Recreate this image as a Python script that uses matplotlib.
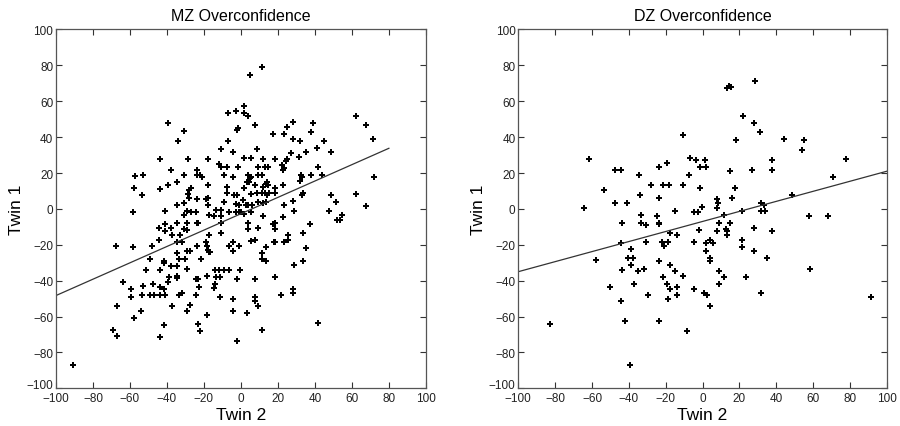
import numpy as np
import matplotlib
matplotlib.use('Agg')
import matplotlib.pyplot as plt

plt.rcParams['font.family'] = ['Liberation Sans', 'DejaVu Sans']

# MZ twins: (twin 2, twin 1)
mz_points = [
    (-2.5, 54.8), (-7, 53.3), (-39.3, 48.1), (-31, 43.3), (-34.2, 38), (-2.2, 44.1), (-1.4, 45),
    (-7, 38), (-11, 33.5), (-4.5, 31.7), (-44, 28), (-28.5, 28), (-17.7, 28), (-11.7, 24.8),
    (-11, 23.5), (-7.7, 23.5), (-1.6, 23.5), (-23.6, 21.5), (-37.8, 21.5), (-57.1, 18.1),
    (-52.8, 19.1), (-31, 19.1), (-23.8, 18.7), (-22.3, 18.7), (-20.9, 18), (-9, 19.1), (-4.5, 18),
    (-57.8, 11.9), (-53.7, 8), (-44, 11.3), (-39.3, 13.3), (-34.6, 15), (-27.2, 11.9),
    (-27.9, 10.8), (-28.5, 8.5), (-27.9, 5.9), (-23.6, 5.5), (-18.9, 5.5), (-17.7, 5.9),
    (-17.7, 13.3), (-17.7, 1.9), (-34.6, 2), (-31, 3.1), (-7.7, 12.4), (-7.7, 8.9), (-4, 8),
    (-2.2, 8), (-9, 4), (-2.9, 2.9), (-1.3, 2),
    # x >= 0, y >= 0
    (11.2, 79.1), (5, 74.6), (1.6, 57.6), (1.6, 53.3), (3.6, 51.9), (7.7, 47), (24.7, 45.7),
    (27.9, 48.7), (39.1, 48.1), (17.1, 41.9), (23.2, 41.9), (37.8, 42.8), (27.9, 38.9),
    (31.7, 38), (44.9, 38), (62, 52), (67.4, 47), (71.4, 39.1), (8.6, 33.5), (27, 31.1),
    (35.1, 31.7), (41.1, 34.1), (48.6, 31.7), (1.6, 28.1), (5.4, 28.3), (11.9, 27.6),
    (18.6, 27.6), (24.7, 28), (24.3, 26.5), (31.2, 29.1), (22, 24.3), (23.4, 22.8), (23, 21.5),
    (9.2, 23.5), (13.2, 23.5), (14.6, 23.5), (41.6, 23.5), (4, 18.7), (5.6, 18), (4.7, 17.1),
    (9.2, 19.1), (11.5, 18.7), (32.4, 18.7), (31.7, 15.7), (33, 17.6), (37.8, 19.1), (44, 19.1),
    (71.7, 17.8), (3.4, 14.8), (4.3, 14.8), (7.7, 13.5), (11.7, 12.4), (13.3, 14.1), (14.2, 14.8),
    (14.8, 13.5), (18.6, 11.9), (22.9, 13.1), (1.6, 11.9), (5.6, 8.3), (8.6, 8.7), (11.2, 8.9),
    (13.2, 8.7), (15, 8.7), (18.6, 8.7), (14.1, 8), (28.1, 4.4), (33.7, 8.7), (33, 8), (48.6, 8),
    (51.2, 3.7), (62, 8.3), (1.3, 5), (2.7, 2.4), (3.8, 2), (6.1, 2.4), (9.2, 3.7), (11.9, 3.1),
    (13.5, 3.9), (23.2, 1.9), (67.7, 1.7),
    # x <= 0, y <= 0
    (-90.6, -87.2), (-67.7, -20.8), (-58.1, -21.4), (-58.1, -1.9), (-63.5, -40.7), (-59.4, -44.6),
    (-59.4, -48.9), (-67.1, -53.9), (-57.9, -60.6), (-69.3, -67.3), (-67.1, -70.6), (-53.8, -57.1),
    (-52.7, -42.8), (-53.6, -48), (-51.4, -34), (-48.9, -48), (-47.1, -48), (-47.3, -41.6),
    (-48.9, -27.7), (-48.2, -20.8), (-44.2, -17.5), (-44.2, -10.8), (-43.9, -33.8), (-43.9, -43.5),
    (-43.7, -48), (-41, -48), (-41.5, -44.6), (-41.5, -64.5), (-43.9, -71.6), (-41, -12.1),
    (-41, -8.4), (-41, -1.3), (-41.5, -29), (-41.5, -30.3), (-37.7, -10.6), (-37.5, -14.3),
    (-38.8, -38.1), (-39.2, -40.5), (-37.7, -31.6), (-37.5, -53.9), (-34.7, -7.8), (-34.7, -18.6),
    (-32.1, -18.6), (-34.3, -24.5), (-33.6, -27.9), (-34.3, -31.6), (-34.5, -37.2), (-34.5, -38.7),
    (-33.6, -47.8), (-31.6, -47), (-30.5, -27.9), (-28.9, -33.5), (-29.4, -57.1), (-27.8, -53.5),
    (-29.2, -1.3), (-30.7, -3.3), (-30.7, -11.2), (-29.2, -11.9), (-33.2, -14.3), (-29.2, -7.8),
    (-27.1, -1.9), (-24.5, -1.9), (-29.2, -23.6), (-27.8, -23.6), (-24.5, -39.2), (-23.3, -39.2),
    (-22.6, -43.5), (-24.5, -48), (-23.3, -64.3), (-22.2, -67.8), (-21.8, -27.7), (-23.6, -20.8),
    (-24, -7.8), (-23.3, -7.8), (-18.6, -37.5), (-18.4, -59.1), (-17.3, -3.3), (-17.3, -14.3),
    (-19.1, -18.2), (-18.4, -20.8), (-18, -22.7), (-17.3, -24.2), (-16.6, -24.2), (-14.6, -43.9),
    (-14.1, -42.1), (-14.1, -33.8), (-12.1, -33.8), (-13.7, -38.2), (-11.4, -38.2), (-11.4, -48.9),
    (-10.6, -13.6), (-10.8, -7.8), (-10.8, -0.4), (-10.8, -3.7), (-13.7, -0.6), (-14.4, -3.7),
    (-9, -33.8), (-6.7, -33.8), (-6.7, -20.8), (-4.3, -18.6), (-4.3, -23.6), (-1.1, -20.8),
    (-4.3, -50.4), (-4.3, -57.1), (-2, -39.2), (-0.7, -34.2), (-2.3, -73.6), (-6.7, -1.9),
    (-2.7, -1.9), (-1.3, -1.9), (0, -1.5),
    # x >= 0, y <= 0
    (1.6, -2.6), (5.4, -1.5), (3.6, -7.8), (3.6, -11.2), (5.4, -18), (7.7, -17.5), (9.2, -10.8),
    (11.9, -3.7), (13.5, -21), (11.5, -24.5), (11.5, -27.7), (13.5, -29), (7.7, -39.2),
    (7.7, -48.9), (7.7, -51.3), (9.2, -53.9), (3.4, -57.8), (11.5, -67.5), (17.5, -8.2),
    (18.6, -7.8), (18.6, -11.2), (18, -18.6), (18.6, -18.2), (18.6, -37.9), (21.4, -48),
    (22.7, -4.6), (23.2, -18.2), (25.2, -17.5), (25.2, -14.3), (28.5, -0.9), (28.5, -31),
    (27.9, -44.6), (27.9, -47), (33.5, -13.6), (35.3, -21.7), (33.5, -29), (37.3, -8.2),
    (41.6, -63.6), (47.7, -1.3), (52.1, -6.1), (53.3, -6.1), (54.6, -3.5),
]

# DZ twins: (twin 2, twin 1)
dz_points = [
    (-64.5, 0.7), (-61.4, 27.8), (-53.7, 10.7), (-47.6, 21.5), (-44.3, 21.5), (-47.6, 3.5),
    (-40.9, 3.5), (-34.6, 19.1), (-33.9, 8), (-27.9, 13.3), (-23.6, 23.3), (-23.6, 5.9),
    (-21.3, 13.3), (-18, 13.3), (-19.1, 25.4), (-10.8, 41.1), (-10.8, 13.3), (-7.6, 19.1),
    (-6.7, 28.3),
    (28.6, 71.3), (13.5, 67.4), (14.2, 68.3), (15.3, 67.8), (21.8, 51.9), (27.9, 48.1),
    (31.2, 43.1), (18.2, 38.3), (44.3, 38.9), (54.8, 38.3), (53.9, 33), (77.7, 27.8), (71, 17.8),
    (-3.8, 27.2), (1.1, 27.2), (-1.3, 23.5), (1.6, 23.5), (14.8, 21.1), (26.8, 21.5), (37.8, 27.2),
    (37.8, 21.5), (-1.6, 11.5), (17.5, 11.9), (7.7, 5.6), (8.5, 3.5), (16, 5.9), (31.7, 3.5),
    (33.5, 1.9), (48.6, 8), (-0.5, 1.1), (7.7, 0.7),
    (-82.9, -63.9), (-57.8, -28.6), (-50.5, -43.5), (-44.3, -51.3), (-43.8, -7.8), (-44.3, -18.8),
    (-43.8, -33.8), (-42.3, -62.6), (-40.5, -27.5), (-39.1, -22.3), (-38.7, -31.4), (-37.7, -27.5),
    (-37.1, -41.6), (-39.3, -87.2), (-35, -34.8), (-33.5, -3.5), (-33.3, -7.8), (-30.5, -8.7),
    (-30.6, -18.6), (-31.9, -33.5), (-29.4, -48), (-24.7, -4.1), (-23.6, -7.8), (-23.6, -8.6),
    (-23.6, -29), (-23.6, -62.5), (-22, -18.6), (-20.7, -20.8), (-21.6, -37.9), (-19.1, -41.6),
    (-17.7, -44.6), (-18.9, -50.2), (-18.6, -18.6), (-17.8, -13.4), (-17.5, -31), (-14.8, -1.3),
    (-13.7, -14.5), (-14.8, -34.4), (-13.7, -43.5), (-13.7, -48), (-10.8, -37.4), (-8.6, -67.8),
    (-4.9, -1.5), (-4.9, -18.6), (-4.9, -44.6),
    (-2.3, -1.9), (11.4, -3.2), (21.4, -1.1), (31.7, -1.3), (33.7, -0.9), (58, -4.1), (67.9, -4.1),
    (8.8, -8), (14.8, -7.8), (-2.2, -11.7), (7.7, -12.1), (12.8, -11.2), (13.5, -12.3),
    (13.5, -14.5), (27.7, -10.6), (37.7, -12.1), (1.6, -18.8), (3.8, -17.5), (5.8, -18.8),
    (21.4, -17.5), (21.4, -21.4), (1.6, -23.6), (3.8, -27.5), (3.8, -29), (27.9, -23.6),
    (35, -27.1), (58.4, -33.5), (8.8, -34.4), (11.5, -37.9), (23.4, -37.9), (8.8, -41.6),
    (0.5, -47), (2.2, -48), (31.7, -47), (3.8, -54.3), (91.4, -48.9),
]

# regression lines: slope, intercept, x range
mz_fit = (0.456, -2.7, (-100, 80))
dz_fit = (0.28, -7.0, (-100, 100))

titles = ['MZ Overconfidence', 'DZ Overconfidence']
ticks = list(range(-100, 101, 20))

fig = plt.figure(figsize=(9, 4.27), dpi=100)
ax1 = fig.add_axes([0.0622, 0.0883, 0.411, 0.8403])
ax2 = fig.add_axes([0.5759, 0.0883, 0.4095, 0.8403])

for ax, pts, fit, title in zip([ax1, ax2], [mz_points, dz_points], [mz_fit, dz_fit], titles):
    pts = np.array(pts)
    ax.plot(pts[:, 0], pts[:, 1], 'P', color='black', markersize=3.8, markeredgewidth=0)
    slope, icpt, (x0, x1) = fit
    xs = np.array([x0, x1])
    ax.plot(xs, slope * xs + icpt, color='#333333', linewidth=0.9)
    ax.set_xlim(-100, 100)
    ax.set_ylim(-100, 100)
    ax.set_xticks(ticks)
    ax.set_yticks(ticks)
    ax.tick_params(direction='in', length=4, width=0.8, labelsize=8.5, top=True, right=True,
                   color='#333333', labelcolor='#222222', pad=2)
    ax.tick_params(axis='x', pad=3)
    # lift the bottom y label a little, as in the original, so it clears the x label
    ax.get_yticklabels()[0].set_verticalalignment('baseline')
    for s in ax.spines.values():
        s.set_color('#555555')
        s.set_linewidth(0.9)
    ax.set_title(title, fontsize=11.5, pad=7)
    ax.set_xlabel('Twin 2', fontsize=12.5, labelpad=2)
    ax.set_ylabel('Twin 1', fontsize=12.5, labelpad=2)

fig.savefig('out.png', dpi=100)
